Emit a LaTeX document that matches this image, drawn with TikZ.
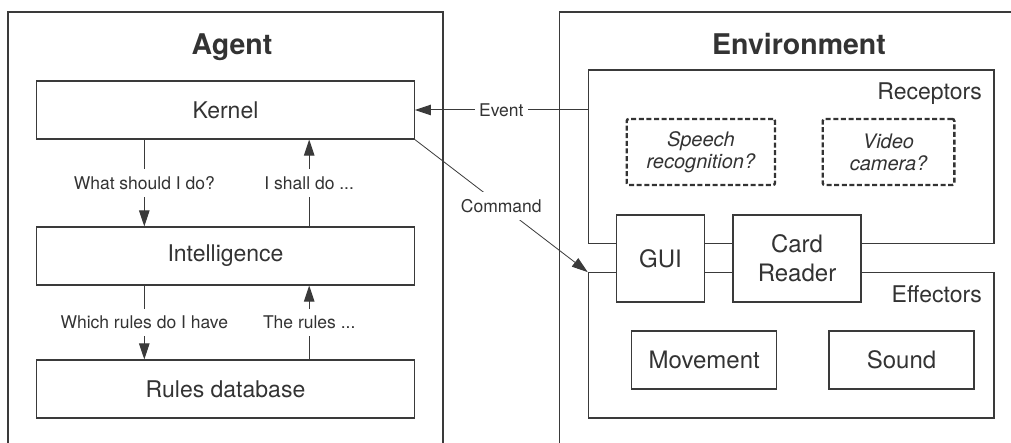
\documentclass[tikz,border=0pt]{standalone}
\usepackage{fontspec}
\setmainfont{TeX Gyre Heros}
\usetikzlibrary{arrows.meta}
\definecolor{ink}{HTML}{3A3A3A}
\definecolor{txt}{HTML}{333333}
\begin{document}
\begin{tikzpicture}[x=1pt,y=-1pt,
  panel/.style={draw=ink, line width=1.3pt},
  box/.style={draw=ink, line width=1.2pt, fill=white, inner sep=0pt, text=txt,
    font=\fontsize{23}{29}\selectfont, align=center},
  bigbox/.style={box, font=\fontsize{24}{29}\selectfont},
  dashbox/.style={box, draw=txt, dash pattern=on 5pt off 2.6pt, line width=2.4pt, rounded corners=2pt,
    font=\fontsize{20}{22}\selectfont\itshape},
  flow/.style={draw=ink, line width=1pt, -{Triangle[length=16pt,width=10.5pt]}},
  lab/.style={fill=white, text=txt, font=\fontsize{17.5}{21}\selectfont, inner xsep=4pt, inner ysep=7pt},
  ttl/.style={text=txt, font=\fontsize{28.5}{34}\selectfont\bfseries, anchor=base, inner sep=0pt},
  corner/.style={text=txt, font=\fontsize{23}{28}\selectfont, anchor=base east, inner sep=0pt}]
\useasboundingbox (0,0) rectangle (1011,443);
\clip (0,0) rectangle (1011,443);
\fill[white] (0,0) rectangle (1011,443);

% panels
\draw[panel] (8,460) -- (8,12) -- (443,12) -- (443,460);
\draw[panel] (559.3,460) -- (559.3,12) -- (1030,12);
\node[ttl] (agentT) at (232,55) {Agent};
\node[ttl] (envT) at (799,55) {Environment};

% agent boxes
\node[box, minimum width=377.6pt, minimum height=58pt] (k) at (225.5,110) {Kernel};
\node[box, minimum width=377.6pt, minimum height=58pt] (i) at (225.5,256) {Intelligence};
\node[box, minimum width=377.6pt, minimum height=58pt] (rd) at (225.5,389) {Rules database};

\coordinate (a1) at (144.3,0);
\coordinate (a2) at (309.2,0);
\draw[flow] (k.south -| a1) -- node[lab]{What should I do?} (i.north -| a1);
\draw[flow] (i.north -| a2) -- node[lab]{I shall do ...} (k.south -| a2);
\draw[flow] (i.south -| a1) -- node[lab]{Which rules do I have} (rd.north -| a1);
\draw[flow] (rd.north -| a2) -- node[lab]{The rules ...} (i.south -| a2);

% environment boxes
\node[box, minimum width=405.7pt, minimum height=173.7pt] (rc) at (791.15,156.85) {};
\node[box, minimum width=405.7pt, minimum height=145.3pt] (ef) at (791.15,345.35) {};
\node[corner] (rcl) at (982,99.3) {Receptors};
\node[corner] (efl) at (982,302) {Effectors};

\node[dashbox, minimum width=148.3pt, minimum height=66pt] (sp) at (700.85,152) {Speech\\recognition?};
\node[dashbox, minimum width=131.6pt, minimum height=66pt] (vc) at (888.5,152) {Video\\camera?};

\node[bigbox, minimum width=87.6pt, minimum height=87pt] (gui) at (660.5,258.5) {GUI};
\node[bigbox, minimum width=128pt, minimum height=87pt] (card) at (797,258.5) {Card\\Reader};

\node[bigbox, minimum width=145pt, minimum height=58pt] (mv) at (704.2,360) {Movement};
\node[bigbox, minimum width=145pt, minimum height=58pt] (snd) at (901.5,360) {Sound};

% connectors between agent and environment
\draw[flow] (rc.west |- k.east) -- node[lab]{Event} (k.east);
\draw[flow, line width=0.8pt] (k.south east) -- node[lab]{Command} (ef.north west);
\end{tikzpicture}
\end{document}
